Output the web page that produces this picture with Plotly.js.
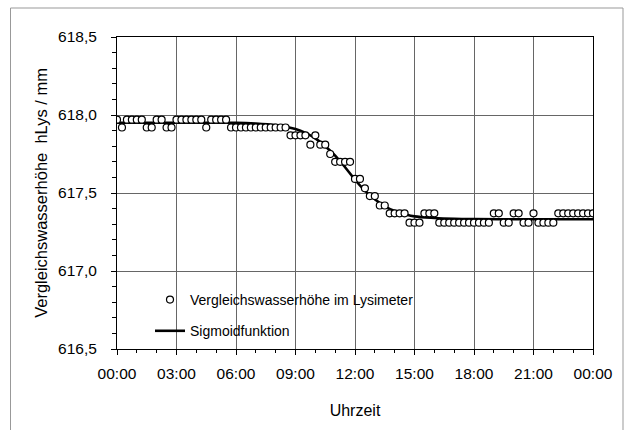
<!DOCTYPE html>
<html>
<head>
<meta charset="utf-8">
<script src="https://cdn.plot.ly/plotly-3.0.1.min.js"></script>
<style>html,body{margin:0;padding:0;background:#fff;}#chart{width:633px;height:430px;}</style>
</head>
<body>
<div id="chart"></div>
<script>
// Measurement times (15-min samples over one day)
const sampleTimes = [
 "00:00","00:15","00:30","00:45","01:00","01:15","01:30","01:45","02:00","02:15","02:30","02:45",
 "03:00","03:15","03:30","03:45","04:00","04:15","04:30","04:45","05:00","05:15","05:30","05:45",
 "06:00","06:15","06:30","06:45","07:00","07:15","07:30","07:45","08:00","08:15","08:30","08:45",
 "09:00","09:15","09:30","09:45","10:00","10:15","10:30","10:45","11:00","11:15","11:30","11:45",
 "12:00","12:15","12:30","12:45","13:00","13:15","13:30","13:45","14:00","14:15","14:30","14:45",
 "15:00","15:15","15:30","15:45","16:00","16:15","16:30","16:45","17:00","17:15","17:30","17:45",
 "18:00","18:15","18:30","18:45","19:00","19:15","19:30","19:45","20:00","20:15","20:30","20:45",
 "21:00","21:15","21:30","21:45","22:00","22:15","22:30","22:45","23:00","23:15","23:30","23:45","24:00"];
// Vergleichswasserhöhe im Lysimeter (mm)
const waterLevel = [
 617.97,617.92,617.97,617.97,617.97,617.97,617.92,617.92,617.97,617.97,617.92,617.92,
 617.97,617.97,617.97,617.97,617.97,617.97,617.92,617.97,617.97,617.97,617.97,617.92,
 617.92,617.92,617.92,617.92,617.92,617.92,617.92,617.92,617.92,617.92,617.92,617.87,
 617.87,617.87,617.87,617.81,617.87,617.81,617.81,617.75,617.70,617.70,617.70,617.70,
 617.59,617.59,617.53,617.48,617.48,617.42,617.42,617.37,617.37,617.37,617.37,617.31,
 617.31,617.31,617.37,617.37,617.37,617.31,617.31,617.31,617.31,617.31,617.31,617.31,
 617.31,617.31,617.31,617.31,617.37,617.37,617.31,617.31,617.37,617.37,617.31,617.31,
 617.37,617.31,617.31,617.31,617.31,617.37,617.37,617.37,617.37,617.37,617.37,617.37,617.37];
// Sigmoidfunktion
const sigTimes = ["00:00","02:00","04:00","06:00","07:00","08:00","08:30","09:00","09:30","10:00","10:30","11:00",
 "11:30","12:00","12:30","13:00","13:30","14:00","14:30","15:00","16:00","17:00","18:00","20:00","22:00","24:00"];
const sigValues = [617.95,617.95,617.95,617.95,617.945,617.935,617.925,617.91,617.885,617.85,617.80,617.74,
 617.665,617.585,617.515,617.46,617.415,617.385,617.365,617.35,617.34,617.335,617.333,617.332,617.332,617.332];
const tickHours = [0,3,6,9,12,15,18,21,24];
const tickLabels = ["00:00","03:00","06:00","09:00","12:00","15:00","18:00","21:00","00:00"];

const toHours = s => { const p = s.split(":"); return parseInt(p[0],10) + parseInt(p[1],10)/60; };

const FONT = "Liberation Sans, Arial, sans-serif";
const traces = [
 {x: sigTimes.map(toHours), y: sigValues, type:"scatter", mode:"lines", name:"Sigmoidfunktion",
  line:{color:"#000", width:2.6, shape:"spline", smoothing:1}, legendrank:2, legendgroup:"b"},
 {x: sampleTimes.map(toHours), y: waterLevel, type:"scatter", mode:"markers", name:"Vergleichswasserhöhe im Lysimeter",
  marker:{symbol:"circle", size:7, color:"#fff", line:{color:"#000", width:1.2}}, legendrank:1, legendgroup:"a"}
];
const L = 117, R = 593, T = 37, B = 349, W = 633, H = 430;
const pw = R - L, ph = B - T;
const layout = {
 width: W, height: H,
 margin: {l: L, r: W - R, t: T, b: H - B},
 paper_bgcolor: "#fff", plot_bgcolor: "#fff",
 separators: ",.",
 font: {family: FONT, size: 14, color: "#000"},
 showlegend: true,
 legend: {x: (150 - L)/pw, y: (B - 284)/ph, xanchor: "left", yanchor: "top", bgcolor: "rgba(0,0,0,0)",
  font: {family: FONT, size: 14}, tracegroupgap: 10, itemwidth: 30},
 xaxis: {range: [0, 24], tickmode: "array", tickvals: tickHours, ticktext: tickLabels,
  showgrid: true, gridcolor: "#666", gridwidth: 1, zeroline: false,
  showline: true, linecolor: "#000", linewidth: 1, mirror: true,
  ticks: "outside", ticklen: 5, tickcolor: "#000", tickfont: {family: FONT, size: 15.5},
  ticklabelstandoff: 5,
  minor: {tickmode: "linear", tick0: 0, dtick: 1, ticks: "outside", ticklen: 3, tickcolor: "#000", showgrid: false},
  title: {text: "Uhrzeit", font: {family: FONT, size: 16}, standoff: 24}},
 yaxis: {range: [616.5, 618.5], tickmode: "linear", tick0: 616.5, dtick: 0.5, tickformat: ".1f",
  showgrid: true, gridcolor: "#666", gridwidth: 1, zeroline: false,
  showline: true, linecolor: "#000", linewidth: 1, mirror: true,
  ticks: "outside", ticklen: 5, tickcolor: "#000", tickfont: {family: FONT, size: 15.5},
  ticklabelstandoff: 11,
  minor: {tickmode: "linear", tick0: 616.5, dtick: 0.1, ticks: "outside", ticklen: 4, tickcolor: "#000", showgrid: false},
  title: {text: "Vergleichswasserhöhe\u00a0 hLys / mm", font: {family: FONT, size: 16.5}, standoff: 6}},
 shapes: [{type: "rect", xref: "paper", yref: "paper",
  x0: (10.5 - L)/pw, x1: (623 - L)/pw, y0: (B - 440)/ph, y1: (B - 8)/ph,
  line: {color: "#999", width: 1}, fillcolor: "rgba(0,0,0,0)", layer: "below"}]
};
Plotly.newPlot("chart", traces, layout, {displayModeBar: false, staticPlot: true});
</script>
</body>
</html>
